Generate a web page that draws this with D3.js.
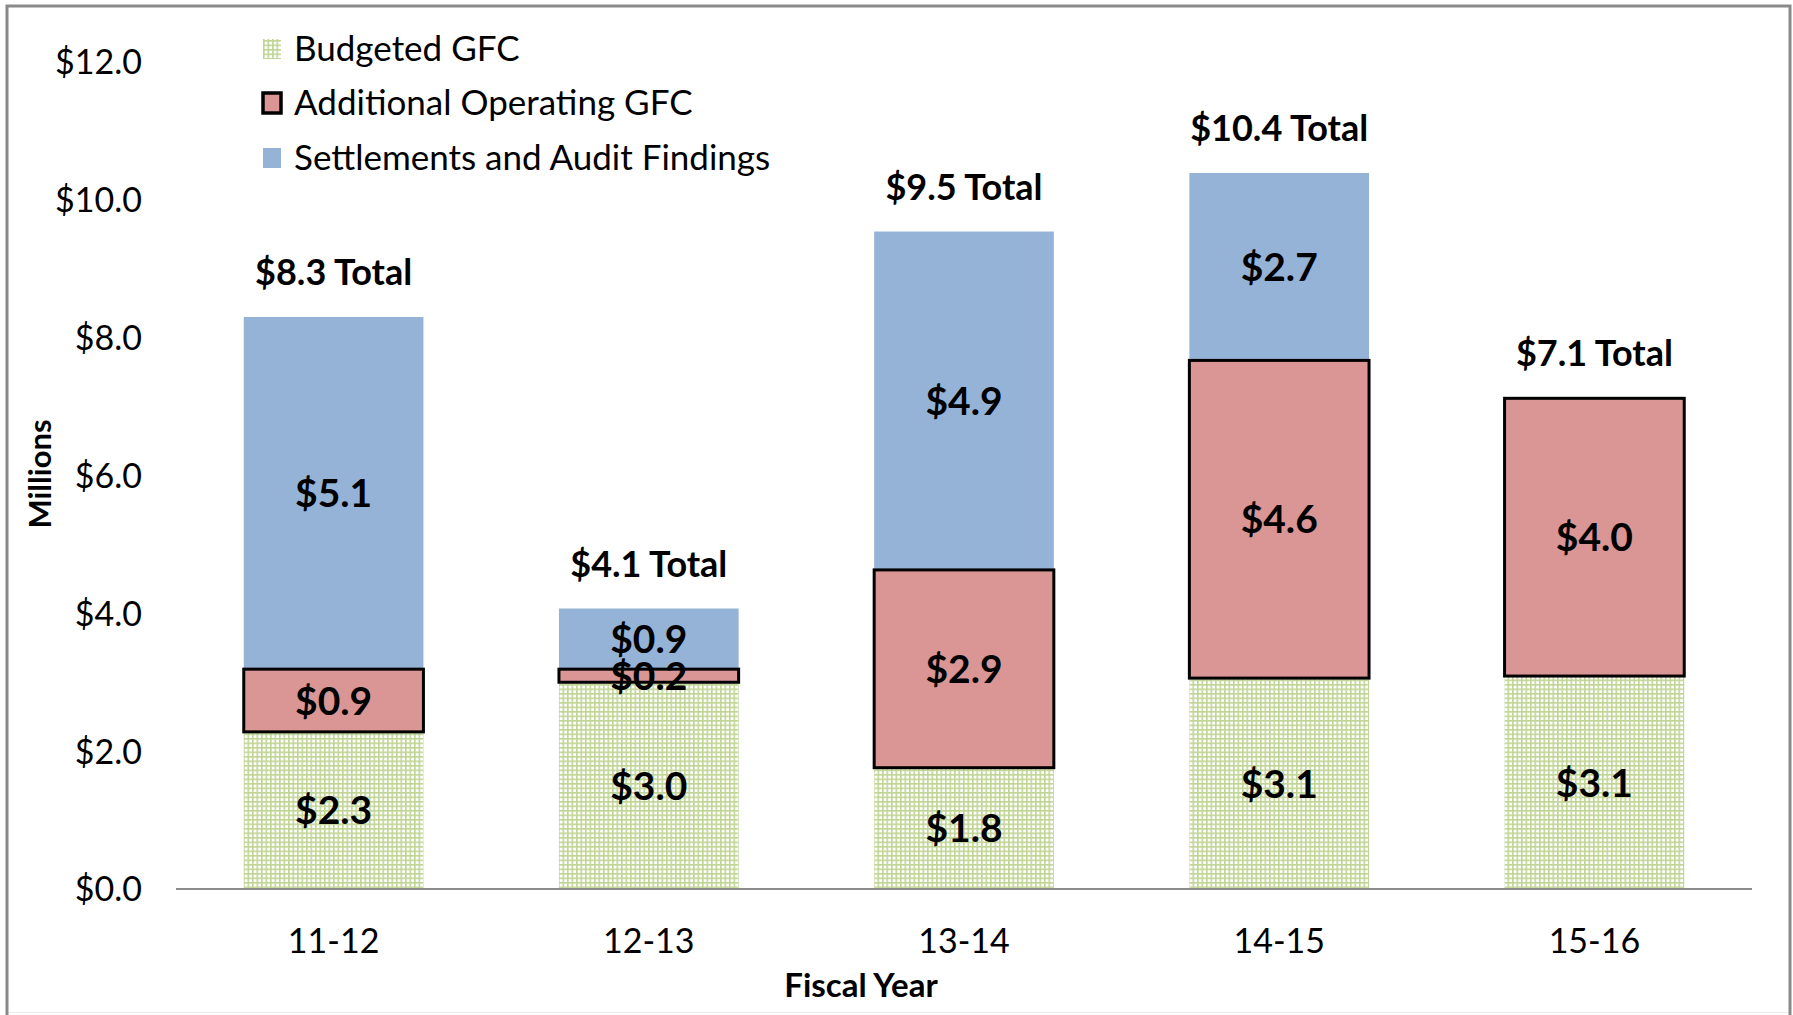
<!DOCTYPE html>
<html>
<head>
<meta charset="utf-8">
<script src="https://cdn.jsdelivr.net/npm/d3@7"></script>
<style>
  html, body { margin: 0; padding: 0; background: #fff; }
  svg { display: block; font-family: Lato, "Open Sans", sans-serif; }
</style>
</head>
<body>
<svg id="chart" width="1793" height="1015"></svg>
<script>
// ---- data ----
const categories = ["11-12", "12-13", "13-14", "14-15", "15-16"];
const budgeted = [2.28, 3.0, 1.76, 3.06, 3.09];
const additional = [0.91, 0.19, 2.87, 4.61, 4.03];
const settlements = [5.11, 0.88, 4.91, 2.72, 0];
const seriesNames = ["Budgeted GFC", "Additional Operating GFC", "Settlements and Audit Findings"];
const yTicks = [0, 2, 4, 6, 8, 10, 12];

// ---- layout ----
const svg = d3.select("#chart");
const plot = { left: 176, right: 1752, top: 62, bottom: 889 };

const x = d3.scaleBand().domain(categories).range([plot.left, plot.right]).paddingInner(0.43).paddingOuter(0.215);
const y = d3.scaleLinear().domain([0, 12]).range([plot.bottom, plot.top]);
const fmt = v => "$" + v.toFixed(1);

// pattern for budgeted
const defs = svg.append("defs");
const pat = defs.append("pattern").attr("id", "grid").attr("patternUnits", "userSpaceOnUse")
  .attr("width", 4.5).attr("height", 4.5);
pat.append("rect").attr("width", 4.5).attr("height", 4.5).attr("fill", "#ffffff");
pat.append("rect").attr("x", 0).attr("y", 0).attr("width", 1.6).attr("height", 4.5).attr("fill", "#c0d595");
pat.append("rect").attr("x", 0).attr("y", 0).attr("width", 4.5).attr("height", 1.6).attr("fill", "#c0d595");

// outer frame
svg.append("rect").attr("x", 7).attr("y", 6).attr("width", 1783).attr("height", 1030)
  .attr("fill", "#fff").attr("stroke", "#8a8a8a").attr("stroke-width", 3);
svg.append("line").attr("x1", 9).attr("x2", 1788).attr("y1", 1012.5).attr("y2", 1012.5)
  .attr("stroke", "#ececec").attr("stroke-width", 1);

// stacked data
const rows = categories.map((c, i) => ({ cat: c, b: budgeted[i], a: additional[i], s: settlements[i] }));
const stack = d3.stack().keys(["b", "a", "s"]);
const layers = stack(rows);

const fills = { b: "url(#grid)", a: "#d99694", s: "#95b3d7" };

// draw order: budgeted, settlements, then additional (so black border on top)
const drawOrder = [0, 2, 1];
drawOrder.forEach(li => {
  const layer = layers[li];
  const key = layer.key;
  svg.append("g").selectAll("rect").data(layer.filter(d => d[1] - d[0] > 0)).join("rect")
    .attr("x", d => x(d.data.cat))
    .attr("width", x.bandwidth())
    .attr("y", d => y(d[1]))
    .attr("height", d => y(d[0]) - y(d[1]))
    .attr("fill", fills[key])
    .attr("stroke", key === "a" ? "#000" : "none")
    .attr("stroke-width", key === "a" ? 3 : 0);
});

// x axis line
svg.append("line").attr("x1", plot.left).attr("x2", plot.right).attr("y1", y(0)).attr("y2", y(0))
  .attr("stroke", "#8c8c8c").attr("stroke-width", 2);

// y tick labels
const yAxis = svg.append("g").attr("transform", `translate(${plot.left},0)`)
  .call(d3.axisLeft(y).tickValues(yTicks).tickFormat(fmt).tickSize(0).tickPadding(34));
yAxis.select(".domain").remove();
yAxis.selectAll("text").attr("font-size", 34).attr("font-family", "Lato").attr("fill", "#000").attr("dy", "0.35em");

// x tick labels
const xAxis = svg.append("g").attr("transform", `translate(0,${y(0)})`)
  .call(d3.axisBottom(x).tickSize(0).tickPadding(52));
xAxis.select(".domain").remove();
xAxis.selectAll("text").attr("font-size", 34).attr("font-family", "Lato").attr("fill", "#000").attr("dy", "0.35em");

// segment labels
layers.forEach(layer => {
  svg.append("g").selectAll("text").data(layer.filter(d => d[1] - d[0] > 0)).join("text")
    .attr("x", d => x(d.data.cat) + x.bandwidth() / 2)
    .attr("y", d => (y(d[0]) + y(d[1])) / 2)
    .attr("dy", "0.36em")
    .attr("text-anchor", "middle")
    .attr("font-size", 39).attr("font-weight", "bold").attr("fill", "#000")
    .text(d => fmt(d[1] - d[0]));
});

// total labels
const topLayer = layers[layers.length - 1];
svg.append("g").selectAll("text").data(topLayer).join("text")
  .attr("x", d => x(d.data.cat) + x.bandwidth() / 2)
  .attr("y", d => y(d[1]) - 32)
  .attr("text-anchor", "middle")
  .attr("font-size", 36).attr("font-weight", "bold").attr("fill", "#000")
  .text(d => fmt(d[1]) + " Total");

// axis titles
svg.append("text").attr("transform", `translate(51,474) rotate(-90)`)
  .attr("text-anchor", "middle").attr("font-size", 31).attr("font-weight", "bold").text("Millions");
svg.append("text").attr("x", 861).attr("y", 997)
  .attr("text-anchor", "middle").attr("font-size", 33).attr("font-weight", "bold").text("Fiscal Year");

// legend
const legend = svg.append("g");
const legendY = [49, 103, 158];
seriesNames.forEach((name, i) => {
  const g = legend.append("g").attr("transform", `translate(263,${legendY[i]})`);
  if (i === 1) {
    g.append("rect").attr("x", 0).attr("y", -10).attr("width", 18).attr("height", 20)
      .attr("fill", "#d99694").attr("stroke", "#000").attr("stroke-width", 3.5);
  } else {
    g.append("rect").attr("x", 0).attr("y", -10).attr("width", 18).attr("height", 20)
      .attr("fill", i === 0 ? "url(#grid)" : "#95b3d7");
  }
  g.append("text").attr("x", 31).attr("y", 0).attr("dy", "0.35em")
    .attr("font-size", 35).attr("fill", "#000").text(name);
});
</script>
</body>
</html>
